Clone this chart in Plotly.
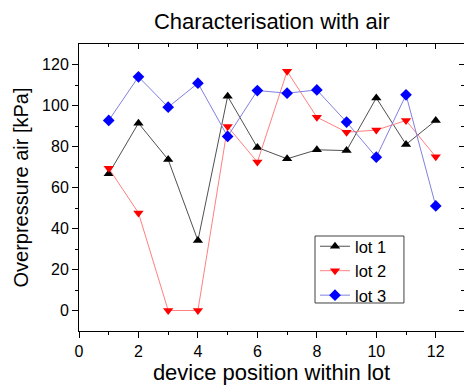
import plotly.graph_objects as go

positions = list(range(1, 13))
lot1 = [66.7, 91.4, 73.6, 34.1, 104.5, 79.5, 74.0, 78.4, 78.0, 103.7, 81.0, 92.7]
lot2 = [69.4, 47.6, 0.0, 0.0, 89.8, 72.4, 116.7, 94.3, 87.0, 88.0, 92.7, 75.0]
lot3 = [92.7, 114.0, 99.2, 110.9, 84.9, 107.3, 106.0, 107.6, 91.9, 74.8, 105.2, 51.0]

FONT = "Liberation Sans, Arial, sans-serif"

fig = go.Figure()
fig.add_trace(go.Scatter(x=positions, y=lot1, mode="lines+markers", name="lot 1",
                         line=dict(color="#505050", width=1),
                         marker=dict(symbol="triangle-up", size=9, color="black")))
fig.add_trace(go.Scatter(x=positions, y=lot2, mode="lines+markers", name="lot 2",
                         line=dict(color="#ff8080", width=1),
                         marker=dict(symbol="triangle-down", size=9, color="red")))
fig.add_trace(go.Scatter(x=positions, y=lot3, mode="lines+markers", name="lot 3",
                         line=dict(color="#8080e0", width=1),
                         marker=dict(symbol="diamond", size=9, color="blue")))
# invisible trace to host the top/right frame axes
fig.add_trace(go.Scatter(x=[None], y=[None], xaxis="x2", yaxis="y2",
                         showlegend=False, hoverinfo="skip"))

xr = [0, 12.95]
yr = [-10, 130]

fig.update_layout(
    width=464, height=385,
    margin=dict(l=79, r=0, t=44, b=54, autoexpand=False),
    paper_bgcolor="white", plot_bgcolor="white",
    font=dict(family=FONT, color="black", size=16),
    title=dict(text="Characterisation with air", x=0.586, xanchor="center", xref="container",
               y=1 - 21 / 385, yref="container", yanchor="middle", font=dict(size=22),
               automargin=False),
    xaxis=dict(range=xr, tickvals=[0, 2, 4, 6, 8, 10, 12], ticks="outside",
               ticklen=6, tickwidth=1, tickcolor="black",
               minor=dict(tickvals=[1, 3, 5, 7, 9, 11], ticks="outside", ticklen=3,
                          tickcolor="black"),
               showline=True, linecolor="black", linewidth=1, showgrid=False,
               zeroline=False, tickfont=dict(size=16), automargin=False,
               title=dict(text="device position within lot", font=dict(size=22), standoff=2)),
    yaxis=dict(range=yr, tickvals=[0, 20, 40, 60, 80, 100, 120], ticks="outside",
               ticklen=6, tickwidth=1, tickcolor="black",
               minor=dict(tickvals=[10, 30, 50, 70, 90, 110], ticks="outside", ticklen=3,
                          tickcolor="black"),
               showline=True, linecolor="black", linewidth=1, showgrid=False,
               zeroline=False, tickfont=dict(size=16), automargin=False,
               title=dict(text="Overpressure air [kPa]", font=dict(size=20), standoff=8)),
    xaxis2=dict(range=xr, overlaying="x", side="top", tickvals=[0, 2, 4, 6, 8, 10, 12],
                ticks="inside", ticklen=5, tickcolor="black", showticklabels=False,
                minor=dict(tickvals=[1, 3, 5, 7, 9, 11], ticks="inside", ticklen=3,
                           tickcolor="black"), automargin=False,
                showline=True, linecolor="black", linewidth=1, showgrid=False, zeroline=False),
    yaxis2=dict(range=yr, overlaying="y", side="right", tickvals=[0, 20, 40, 60, 80, 100, 120],
                ticks="inside", ticklen=5, tickcolor="black", showticklabels=False,
                minor=dict(tickvals=[10, 30, 50, 70, 90, 110], ticks="inside", ticklen=3,
                           tickcolor="black"), automargin=False,
                showline=True, linecolor="black", linewidth=1, showgrid=False, zeroline=False),
    legend=dict(x=0.613, y=0.209, xanchor="left", yanchor="middle",
                bgcolor="rgba(0,0,0,0)", borderwidth=0,
                font=dict(size=16.5), tracegroupgap=0, itemwidth=30),
    showlegend=True,
    shapes=[dict(type="rect", xref="paper", yref="paper", x0=0.613, x1=0.844,
                 y0=0.0976, y1=0.331, line=dict(color="#404040", width=1),
                 fillcolor="white", layer="above")],
)

fig.write_html("out.html", post_script="document.body.style.margin='0px';",
               config={"displayModeBar": False})
